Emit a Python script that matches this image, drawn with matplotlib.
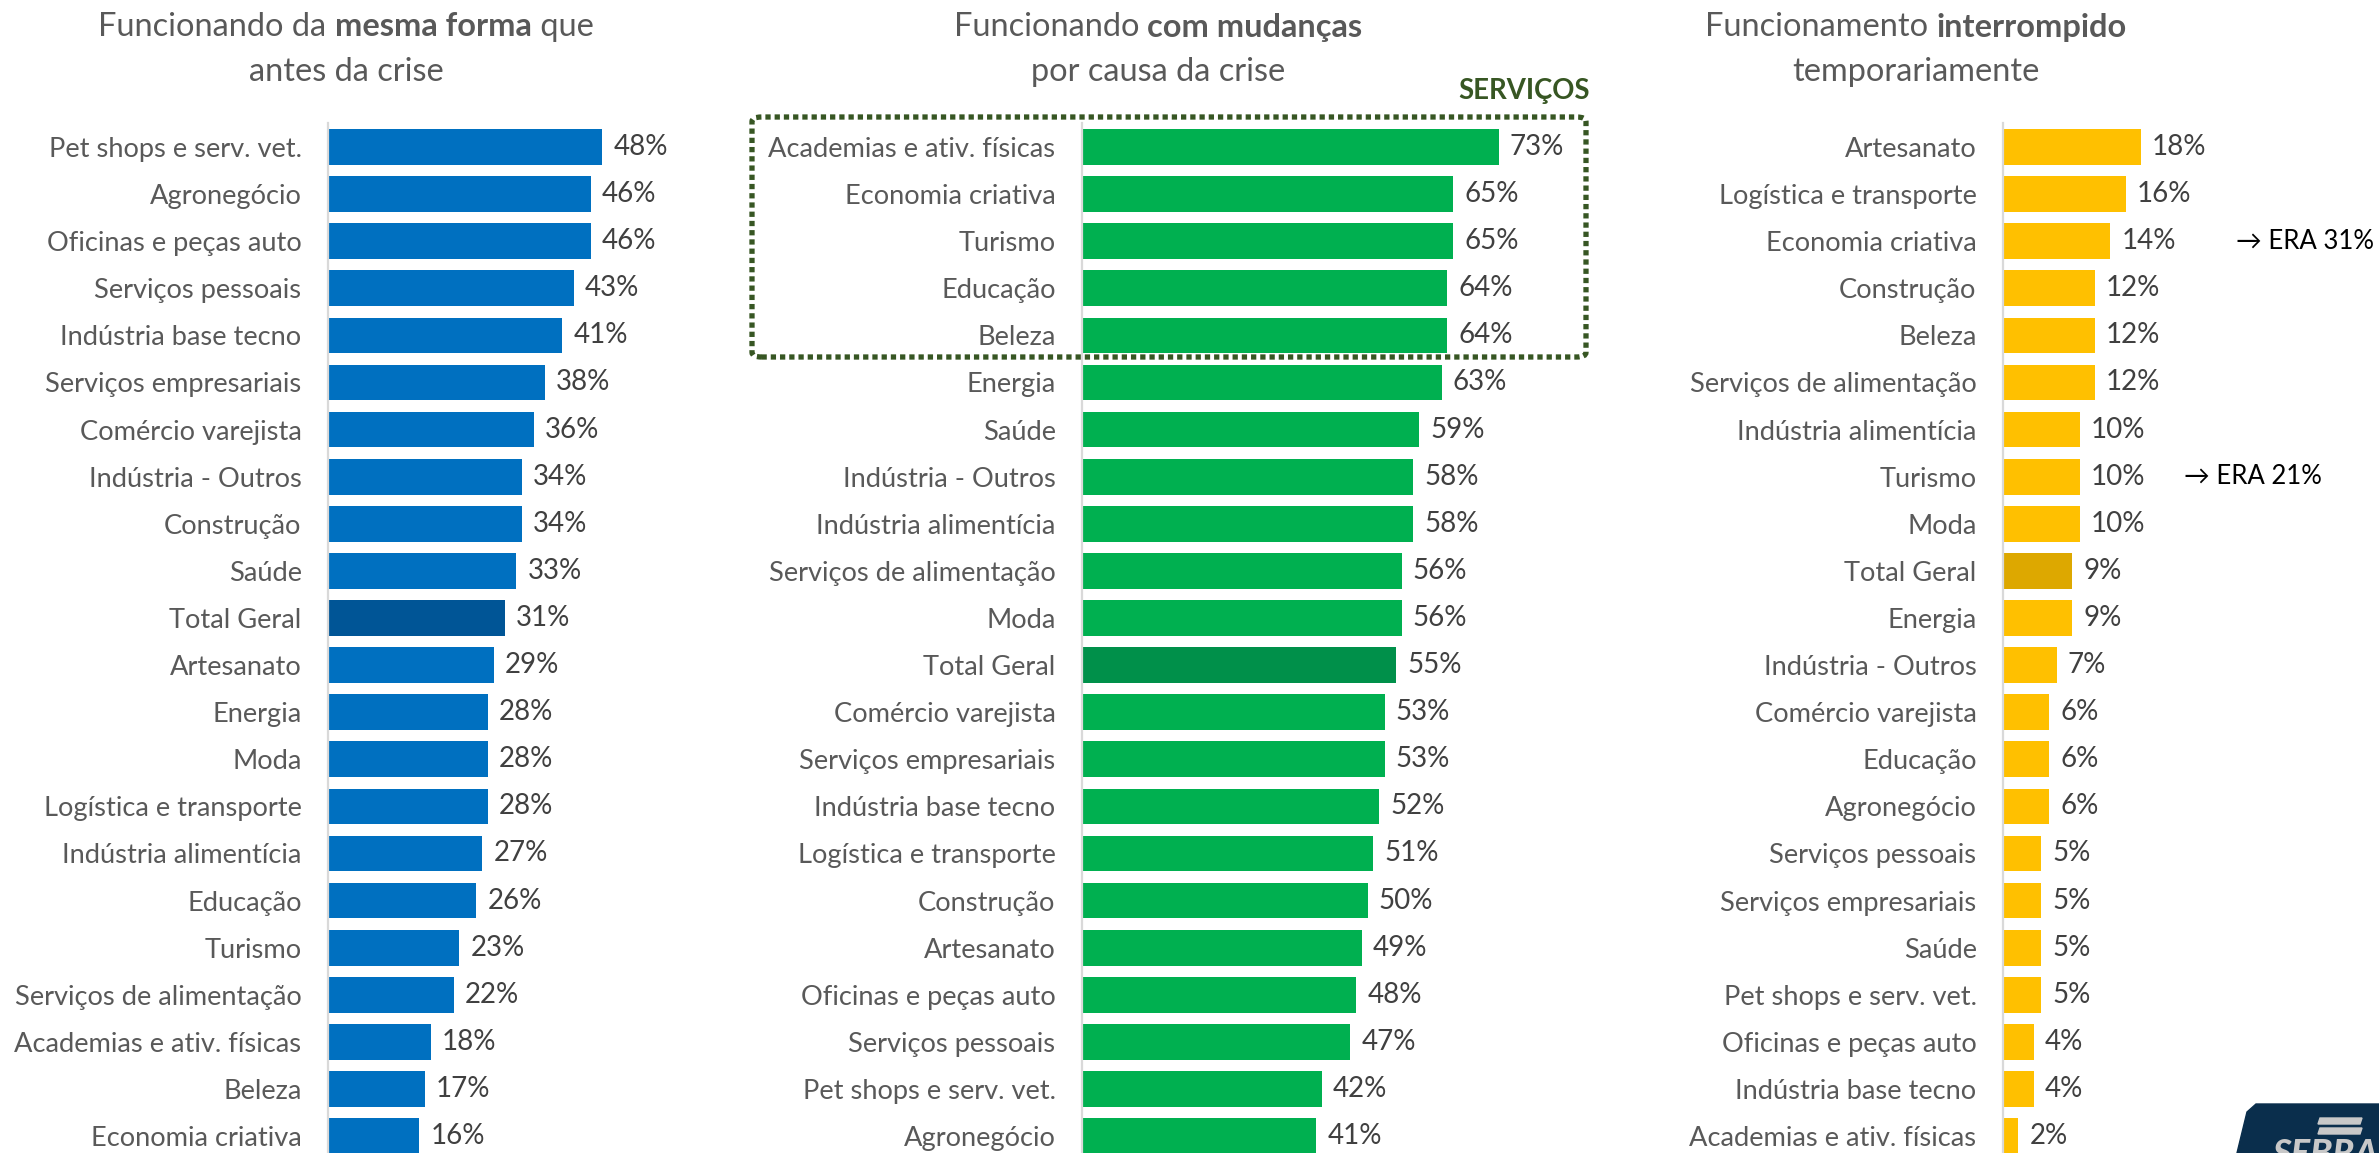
import matplotlib
matplotlib.use("Agg")
import matplotlib.pyplot as plt
from matplotlib.patches import FancyBboxPatch, Polygon

W, H = 2379, 1153
FONT = ["Lato", "DejaVu Sans"]
plt.rcParams["font.family"] = FONT

GREY = "#595959"
DARK = "#404040"

cat_mesma = ["Pet shops e serv. vet.", "Agronegócio", "Oficinas e peças auto", "Serviços pessoais",
             "Indústria base tecno", "Serviços empresariais", "Comércio varejista", "Indústria - Outros",
             "Construção", "Saúde", "Total Geral", "Artesanato", "Energia", "Moda",
             "Logística e transporte", "Indústria alimentícia", "Educação", "Turismo",
             "Serviços de alimentação", "Academias e ativ. físicas", "Beleza", "Economia criativa"]
val_mesma = [48, 46, 46, 43, 41, 38, 36, 34, 34, 33, 31, 29, 28, 28, 28, 27, 26, 23, 22, 18, 17, 16]

cat_mudancas = ["Academias e ativ. físicas", "Economia criativa", "Turismo", "Educação", "Beleza",
                "Energia", "Saúde", "Indústria - Outros", "Indústria alimentícia",
                "Serviços de alimentação", "Moda", "Total Geral", "Comércio varejista",
                "Serviços empresariais", "Indústria base tecno", "Logística e transporte",
                "Construção", "Artesanato", "Oficinas e peças auto", "Serviços pessoais",
                "Pet shops e serv. vet.", "Agronegócio"]
val_mudancas = [73, 65, 65, 64, 64, 63, 59, 58, 58, 56, 56, 55, 53, 53, 52, 51, 50, 49, 48, 47, 42, 41]

cat_interrompido = ["Artesanato", "Logística e transporte", "Economia criativa", "Construção", "Beleza",
                    "Serviços de alimentação", "Indústria alimentícia", "Turismo", "Moda",
                    "Total Geral", "Energia", "Indústria - Outros", "Comércio varejista", "Educação",
                    "Agronegócio", "Serviços pessoais", "Serviços empresariais", "Saúde",
                    "Pet shops e serv. vet.", "Oficinas e peças auto", "Indústria base tecno",
                    "Academias e ativ. físicas"]
val_interrompido = [18, 16, 14, 12, 12, 12, 10, 10, 10, 9, 9, 7, 6, 6, 6, 5, 5, 5, 5, 4, 4, 2]

notas = {"Economia criativa": ("→ ERA 31%", 2236), "Turismo": ("→ ERA 21%", 2184)}


def fx(x):
    return x / W


def fy(y):
    return 1 - y / H


fig = plt.figure(figsize=(W / 100, H / 100), dpi=100)

row0, step = 147, 47.1
top = row0 - step / 2
bottom = row0 + 21.5 * step


def painel(left_px, px_per, xmax, cats, vals, cor, cor_total):
    ax = fig.add_axes([fx(left_px), fy(bottom), xmax * px_per / W, (bottom - top) / H])
    y = list(range(len(cats)))
    cores = [cor_total if c == "Total Geral" else cor for c in cats]
    ax.barh(y, vals, height=0.76, color=cores, edgecolor="none")
    ax.set_xlim(0, xmax)
    ax.set_ylim(len(cats) - 0.5, -0.5)
    ax.set_yticks(y)
    ax.set_yticklabels(cats, fontsize=19.6, color=GREY)
    ax.tick_params(axis="y", length=0, pad=19)
    ax.set_xticks([])
    for s in ["top", "right", "bottom"]:
        ax.spines[s].set_visible(False)
    ax.spines["left"].set_color("#D9D9D9")
    ax.spines["left"].set_linewidth(1.6)
    for i, v in enumerate(vals):
        ax.annotate(f"{v}%", (v, i), xytext=(8, 0), textcoords="offset points",
                    va="center", ha="left", fontsize=20, color=DARK)
    ax.patch.set_alpha(0)
    return ax


ax1 = painel(328, 5.71, 60, cat_mesma, val_mesma, "#0070C0", "#005596")
ax2 = painel(1082, 5.71, 90, cat_mudancas, val_mudancas, "#00B050", "#00904A")
ax3 = painel(2003, 7.67, 45, cat_interrompido, val_interrompido, "#FFC000", "#DDA800")

for c, (txt, xpx) in notas.items():
    i = cat_interrompido.index(c)
    fig.text(fx(xpx), fy(row0 + i * step), txt, fontsize=18.5, color="black",
             va="center", ha="left", family=FONT)

# titulos com partes em negrito
titulos = [
    (346, [[("Funcionando da ", "normal"), ("mesma forma", "bold"), (" que", "normal")],
           [("antes da crise", "normal")]]),
    (1158, [[("Funcionando ", "normal"), ("com mudanças", "bold")],
            [("por causa da crise", "normal")]]),
    (1916, [[("Funcionamento ", "normal"), ("interrompido", "bold")],
            [("temporariamente", "normal")]]),
]
fig.canvas.draw()
r = fig.canvas.get_renderer()
for cx, linhas in titulos:
    for k, partes in enumerate(linhas):
        ypx = 27 + k * 45
        ts = [fig.text(0, fy(ypx), t, fontsize=23.4, fontweight=w, color=GREY, va="center", ha="left")
              for t, w in partes]
        larg = [t.get_window_extent(r).width for t in ts]
        x = cx - sum(larg) / 2
        for t, l in zip(ts, larg):
            t.set_x(fx(x))
            x += l

# destaque servicos
fig.text(fx(1590), fy(91), "SERVIÇOS", fontsize=19.8, fontweight="bold", color="#375623",
         ha="right", va="center")
box = FancyBboxPatch((fx(752), fy(357)), fx(1586 - 752), (357 - 117) / H,
                     boxstyle="round,pad=0,rounding_size=0.004", transform=fig.transFigure,
                     fill=False, edgecolor="#375623", linewidth=3.8, linestyle=(0, (1, 0.75)))
fig.add_artist(box)

# logo
logo = Polygon([(fx(2237), fy(1153)), (fx(2247), fy(1112)), (fx(2256), fy(1104)),
                (fx(2379), fy(1104)), (fx(2379), fy(1153))], closed=True,
               transform=fig.transFigure, color="#0A2E4C")
fig.add_artist(logo)
for y0, y1 in [(1118, 1124), (1128, 1134)]:
    fig.add_artist(Polygon([(fx(2318), fy(y1)), (fx(2320), fy(y0)), (fx(2362), fy(y0)), (fx(2360), fy(y1))],
                           closed=True, transform=fig.transFigure, color="#C8C8C8"))
fig.text(fx(2272), fy(1138), "SEBRAE", fontsize=26, fontweight="black", style="italic",
         color="#C8C8C8", ha="left", va="top")

fig.savefig("out.png", dpi=100)
